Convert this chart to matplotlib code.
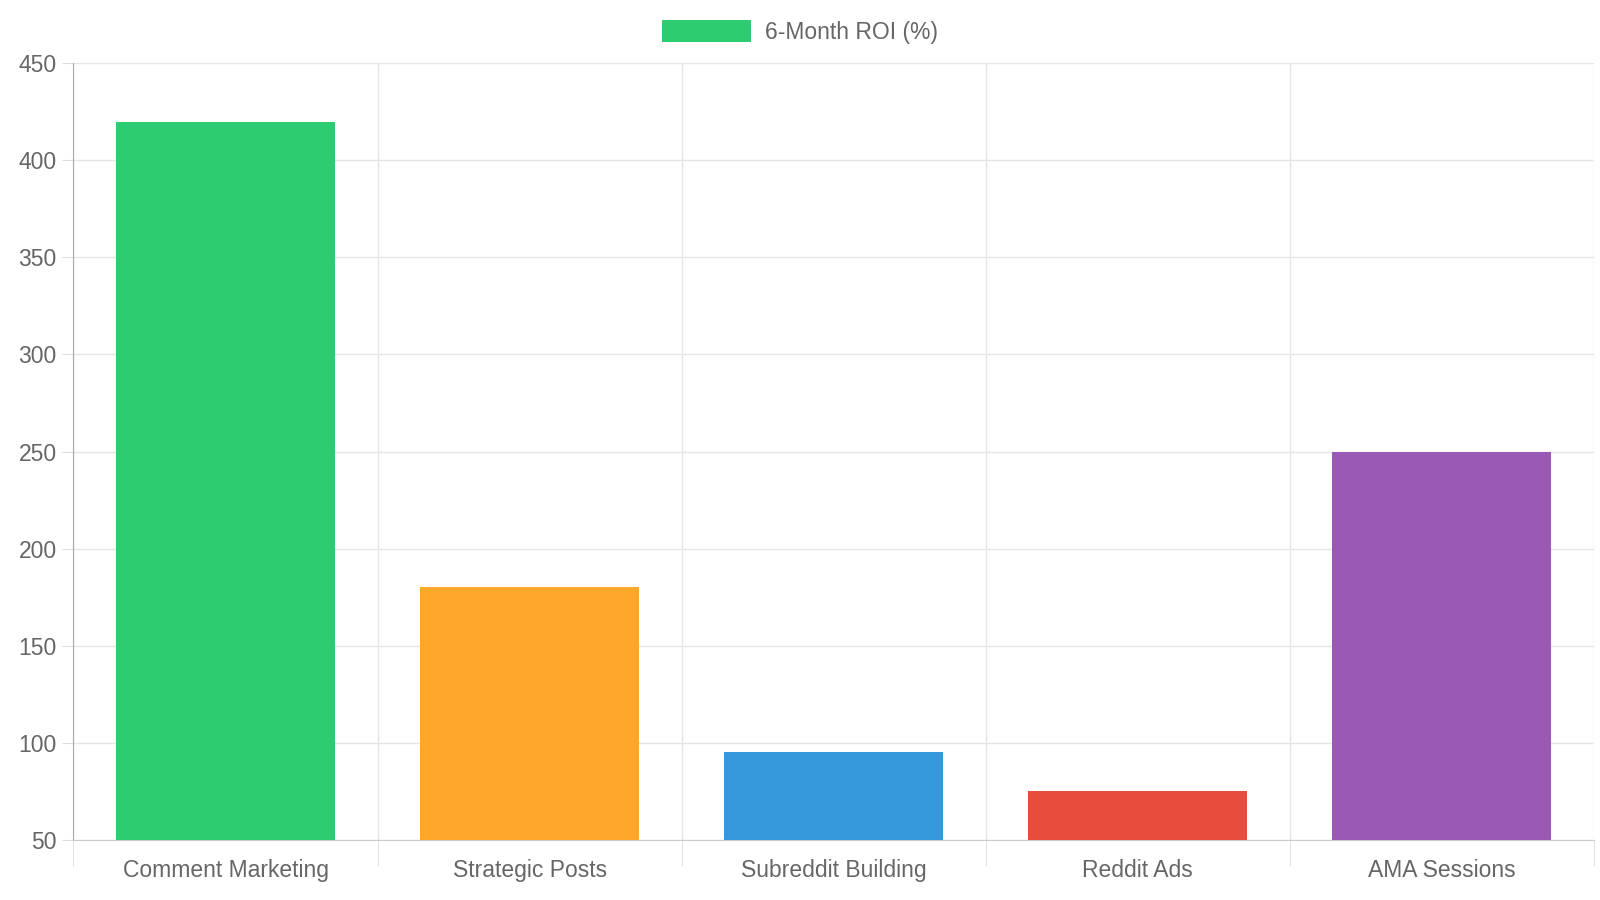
import matplotlib
matplotlib.use("Agg")
import matplotlib.pyplot as plt
from matplotlib.patches import Patch

categories = ["Comment Marketing", "Strategic Posts", "Subreddit Building", "Reddit Ads", "AMA Sessions"]
roi = [420, 180, 95, 75, 250]
colors = ["#2ecc71", "#ffa729", "#3498db", "#e74c3c", "#9b59b6"]
legend_label = "6-Month ROI (%)"
yticks = [50, 100, 150, 200, 250, 300, 350, 400, 450]

W, H = 1568, 882
plt.rcParams['font.family'] = ['Liberation Sans', 'DejaVu Sans']
fig = plt.figure(figsize=(16, 9), dpi=100)
ax = fig.add_axes([72/W, 1-823/H, (1562-72)/W, (823-62)/H])

x = list(range(len(categories)))
ax.bar(x, [v - 50 for v in roi], bottom=50, width=0.72, color=colors, zorder=3)
ax.set_xlim(-0.5, len(categories) - 0.5)
ax.set_ylim(50, 450)
ax.set_yticks(yticks)
ax.set_yticklabels([str(t) for t in yticks], fontsize=16.5, color="#666666")
ax.set_xticks(x)
ax.set_xticklabels(categories, fontsize=16.5, color="#666666")
ax.set_xticks([i - 0.5 for i in range(len(categories) + 1)], minor=True)
ax.tick_params(axis='x', which='major', length=0, pad=14)
ax.tick_params(axis='x', which='minor', length=19, color="#dddddd")
ax.tick_params(axis='y', length=8, color="#dddddd", pad=4)
ax.grid(True, axis='y', color="#e5e5e5", linewidth=1, zorder=0)
ax.grid(True, axis='x', which='minor', color="#e5e5e5", linewidth=1, zorder=0)
for s in ['top', 'right']:
    ax.spines[s].set_visible(False)
ax.spines['left'].set_color("#aaaaaa")
ax.spines['bottom'].set_color("#cccccc")

fig.legend(handles=[Patch(facecolor=colors[0], label=legend_label)], loc='center',
           bbox_to_anchor=(784/W, 1-31/H), frameon=False, fontsize=16.5,
           handlelength=3.9, handleheight=1.1, handletextpad=0.6, labelcolor="#666666")
fig.savefig("out.png", dpi=100)
